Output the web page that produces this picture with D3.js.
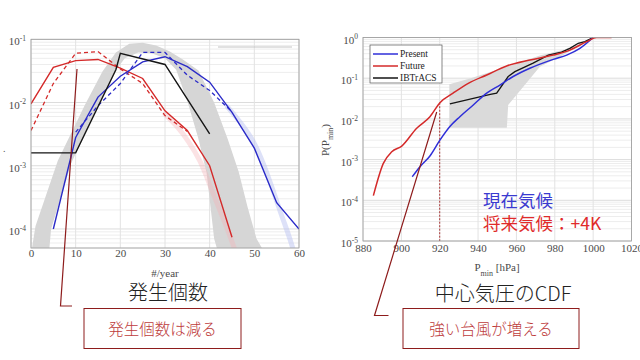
<!DOCTYPE html>
<html><head><meta charset="utf-8">
<script src="https://cdn.jsdelivr.net/npm/d3@7"></script>
<style>body{margin:0;background:#fff} svg{display:block}
.serif{font-family:'Liberation Serif','Times New Roman',serif}
.jp{font-family:'Noto Sans CJK JP','Noto Sans',sans-serif}
</style>
</head><body><svg id="c" width="640" height="360"></svg>
<script>
// ---------- Left panel: annual count distribution ----------
const countTicks = [0,10,20,30,40,50,60];
const probTicksL = [1e-4,1e-3,1e-2,1e-1];
const futureX = [0,5,10,15,20,25,30,35,40,45];
const futureSolid = [0.0095,0.036,0.046,0.048,0.035,0.024,0.0074,0.0036,0.001,0.000074];
const futureDashX = [0,5,10,15,20,25,30,35];
const futureDash = [0.0036,0.020,0.060,0.064,0.034,0.020,0.0062,0.0035];
const presentX = [5,10,15,20,25,30,35,40,45,50,55,60];
const presentSolid = [0.0001,0.0028,0.0122,0.026,0.044,0.053,0.037,0.021,0.007,0.0019,0.00026,0.0001];
const presentDashX = [10,15,20,25,30,35,40,45];
const presentDash = [0.0034,0.0089,0.02,0.062,0.062,0.027,0.0155,0.0071];
const ibCountX = [0,10,19,20,30,40];
const ibCount = [0.0016,0.0016,0.033,0.06,0.04,0.0032];
const grayUpX = [0,1,6,12,16,19,22,25,28,31,34,37.5,41,44,46.5,48.5,50.5,52.5];
const grayUp = [4e-5,1.1e-4,1.2e-3,9e-3,0.031,0.062,0.085,0.088,0.08,0.065,0.048,0.032,0.01,0.0027,8e-4,2.2e-4,7e-5,4e-5];
const grayLoX = [4,4.5,9,15,18.8,21,24,27,30,32.5,35.2,37.4,39.3,40.2,41,42];
const grayLo = [4e-5,1e-4,1.1e-3,9e-3,0.031,0.05,0.062,0.06,0.05,0.033,0.0095,0.0028,7.8e-4,2.2e-4,7e-5,4e-5];
const pinkX = [30,33,35,38,40,42,44,46];
const pink = [0.0065,0.004,0.0026,0.0012,0.0005,0.00022,0.0001,0.00004];
const lblueX = [44,47,50,52,54,56,58,59];
const lblue = [0.0085,0.0048,0.0024,0.0011,0.00045,0.00017,0.00007,0.00004];

// ---------- Right panel: CDF of central pressure ----------
const presTicks = [880,900,920,940,960,980,1000,1020];
const probTicksR = [1e-5,1e-4,1e-3,1e-2,1e-1,1];
const cdfFutureX = [885.4,890.6,895,900.2,908,914.9,920.1,927,934.9,944.5,954.9,967,979.2,987.9,996.6,1001.8,1009.6];
const cdfFuture = [1.3e-4,8.1e-4,1.56e-3,2.15e-3,5.9e-3,0.0113,0.025,0.043,0.075,0.12,0.2,0.28,0.37,0.49,0.79,1,1];
const cdfPresentX = [905.7,909.7,914.9,920.1,925.3,930.5,937.5,944.5,951.4,958.3,967,979.2,986.2,993.1,1000];
const cdfPresent = [3.8e-4,6.7e-4,1.23e-3,3.0e-3,6.5e-3,0.0113,0.022,0.043,0.068,0.11,0.175,0.29,0.37,0.54,1];
const cdfIbX = [925.3,946.4,949.7,955.7,959.2,968.7,976.6,983.5,987.9,992.2,995.7,1000];
const cdfIb = [0.0233,0.04,0.043,0.11,0.145,0.235,0.37,0.44,0.54,0.72,0.79,1];
const bandUpX = [925,935.8,954.9,972.2,984.4,1000];
const bandUp = [0.071,0.099,0.19,0.36,0.49,1];
const bandLoX = [925,955,955.7,972.2,984.4,996.6,1000];
const bandLo = [0.0061,0.0061,0.022,0.19,0.37,0.79,1];
const legendNames = ["Present","Future","IBTrACS"];

const C_BLUE = "#2b2bc8", C_RED = "#d42a2a", C_BLACK = "#151515";
const svg = d3.select("#c");

function zip(xs, ys){ return xs.map((x,i)=>[x,ys[i]]); }

function panel(opts){
  const {x0,x1,y0,y1,xd,yd,xticks,yticks,id,xpad} = opts;
  const x = d3.scaleLinear().domain(xd).range([x0,x1]);
  const y = d3.scaleLog().domain(yd).range([y1,y0]);
  const g = svg.append("g");
  g.append("defs").append("clipPath").attr("id",id).append("rect")
    .attr("x",x0).attr("y",y0).attr("width",x1-x0).attr("height",y1-y0);
  g.append("rect").attr("x",x0).attr("y",y0).attr("width",x1-x0).attr("height",y1-y0).attr("fill","#fff");
  const lo = Math.floor(Math.log10(yd[0])), hi = Math.ceil(Math.log10(yd[1]));
  const minors = [];
  for(let e=lo;e<hi;e++) for(let m=2;m<=9;m++){ const v=m*Math.pow(10,e); if(v>=yd[0]&&v<=yd[1]) minors.push(v); }
  g.selectAll(null).data(minors).enter().append("line")
    .attr("x1",x0).attr("x2",x1).attr("y1",d=>y(d)).attr("y2",d=>y(d))
    .attr("stroke","#ededed").attr("stroke-width",1);
  g.selectAll(null).data(yticks).enter().append("line")
    .attr("x1",x0).attr("x2",x1).attr("y1",d=>y(d)).attr("y2",d=>y(d))
    .attr("stroke","#dcdcdc").attr("stroke-width",1);
  g.selectAll(null).data(xticks).enter().append("line")
    .attr("x1",d=>x(d)).attr("x2",d=>x(d)).attr("y1",y0).attr("y2",y1)
    .attr("stroke","#e2e2e2").attr("stroke-width",1);
  const plot = g.append("g").attr("clip-path",`url(#${id})`);
  g.append("rect").attr("x",x0).attr("y",y0).attr("width",x1-x0).attr("height",y1-y0)
    .attr("fill","none").attr("stroke","#9a9a9a").attr("stroke-width",0.8);
  const xa = d3.axisBottom(x).tickValues(xticks).tickSize(0).tickPadding(xpad).tickFormat(d3.format("d"));
  const ax = g.append("g").attr("transform",`translate(0,${y1})`).call(xa).attr("font-family",null);
  ax.select(".domain").remove();
  ax.selectAll("text").attr("class","serif").attr("font-size",11).attr("fill","#4a4a4a");
  const ya = d3.axisLeft(y).tickValues(yticks).tickSize(0).tickPadding(5).tickFormat(()=> "");
  const ay = g.append("g").attr("transform",`translate(${x0},0)`).call(ya).attr("font-family",null);
  ay.select(".domain").remove();
  ay.selectAll(".tick text").each(function(d){
    const t = d3.select(this).attr("class","serif").attr("font-size",11).attr("fill","#4a4a4a").attr("dy","0.5em");
    t.append("tspan").text("10");
    t.append("tspan").attr("dy","-0.55em").attr("font-size",7.5).text(Math.round(Math.log10(d)));
  });
  return {x,y,plot,g};
}

// ----- Left -----
const L = panel({x0:31,x1:299,y0:39.3,y1:248,xd:[0,60],yd:[5e-5,0.1],xticks:countTicks,yticks:probTicksL,id:"clipL",xpad:1});
const lineL = d3.line().x(d=>L.x(d[0])).y(d=>L.y(d[1]));
const grayPoly = zip(grayUpX,grayUp).concat(zip(grayLoX,grayLo).reverse());
L.plot.append("path").attr("d",lineL(grayPoly)+"Z").attr("fill","#d6d6d6").attr("stroke","none");
const smooth = d3.line().curve(d3.curveBasis).x(d=>L.x(d[0])).y(d=>L.y(d[1]));
L.plot.append("path").attr("d",smooth(zip(pinkX,pink))).attr("fill","none").attr("stroke","#f4b4b8").attr("stroke-opacity",0.38).attr("stroke-width",5).attr("stroke-linecap","round");
L.plot.append("path").attr("d",smooth(zip(lblueX,lblue))).attr("fill","none").attr("stroke","#bcc3f2").attr("stroke-opacity",0.5).attr("stroke-width",5).attr("stroke-linecap","round");
L.plot.append("path").attr("d",lineL(zip(futureDashX,futureDash))).attr("fill","none").attr("stroke",C_RED).attr("stroke-width",1.3).attr("stroke-dasharray","4,3");
L.plot.append("path").attr("d",lineL(zip(presentDashX,presentDash))).attr("fill","none").attr("stroke",C_BLUE).attr("stroke-width",1.3).attr("stroke-dasharray","4,3");
L.plot.append("path").attr("d",lineL(zip(futureX,futureSolid))).attr("fill","none").attr("stroke",C_RED).attr("stroke-width",1.4);
L.plot.append("path").attr("d",lineL(zip(presentX,presentSolid))).attr("fill","none").attr("stroke",C_BLUE).attr("stroke-width",1.4);
L.plot.append("path").attr("d",lineL(zip(ibCountX,ibCount))).attr("fill","none").attr("stroke",C_BLACK).attr("stroke-width",1.4);
L.g.append("line").attr("x1",218).attr("x2",292).attr("y1",47).attr("y2",47).attr("stroke","#c4c4c4").attr("stroke-width",1.2);
svg.append("text").attr("class","serif").attr("x",165).attr("y",276.5).attr("text-anchor","middle").attr("font-size",11).attr("fill","#4a4a4a").text("#/year");
svg.append("text").attr("class","serif").attr("x",3).attr("y",152).attr("font-size",10).attr("fill","#555").text(".");

// ----- Right -----
const R = panel({x0:363,x1:631.5,y0:37.5,y1:241,xd:[880,1020],yd:[1e-5,1],xticks:presTicks,yticks:probTicksR,id:"clipR",xpad:3});
const lineR = d3.line().x(d=>R.x(d[0])).y(d=>R.y(d[1]));
const bandPoly = zip(bandUpX,bandUp).concat(zip(bandLoX,bandLo).reverse());
R.plot.append("path").attr("d",lineR(bandPoly)+"Z").attr("fill","#dadada");
R.plot.append("line").attr("x1",R.x(920)).attr("x2",R.x(920)).attr("y1",R.y(0.025)).attr("y2",R.y(1e-5))
  .attr("stroke","#a32020").attr("stroke-width",0.9).attr("stroke-dasharray","2,1.5");
const smoothR = d3.line().curve(d3.curveMonotoneX).x(d=>R.x(d[0])).y(d=>R.y(d[1]));
R.plot.append("path").attr("d",lineR(zip(cdfIbX,cdfIb))).attr("fill","none").attr("stroke",C_BLACK).attr("stroke-width",1.3);
R.plot.append("path").attr("d",smoothR(zip(cdfPresentX,cdfPresent))).attr("fill","none").attr("stroke","#2f2fd8").attr("stroke-width",1.5);
R.plot.append("path").attr("d",smoothR(zip(cdfFutureX,cdfFuture))).attr("fill","none").attr("stroke",C_RED).attr("stroke-width",1.5);
const lg = svg.append("g");
lg.append("rect").attr("x",370).attr("y",45).attr("width",72).attr("height",38).attr("fill","#fff").attr("stroke","#555").attr("stroke-width",0.7);
const legColors = ["#2f2fd8",C_RED,C_BLACK];
legendNames.forEach((n,i)=>{
  const yy = 54 + i*12;
  lg.append("line").attr("x1",373).attr("x2",398).attr("y1",yy).attr("y2",yy).attr("stroke",legColors[i]).attr("stroke-width",1.5);
  lg.append("text").attr("class","serif").attr("x",400).attr("y",yy+3.3).attr("font-size",9.5).attr("fill","#222").text(n);
});
const xl = svg.append("text").attr("class","serif").attr("x",497).attr("y",271).attr("text-anchor","middle").attr("font-size",11).attr("fill","#4a4a4a");
xl.append("tspan").text("P");
xl.append("tspan").attr("dy",5).attr("font-size",8).text("min");
xl.append("tspan").attr("dy",-5).text(" [hPa]");
const yl = svg.append("text").attr("class","serif").attr("transform","translate(329,140) rotate(-90)").attr("text-anchor","middle").attr("font-size",11).attr("fill","#4a4a4a");
yl.append("tspan").text("P(P");
yl.append("tspan").attr("dy",4).attr("font-size",8).text("min");
yl.append("tspan").attr("dy",-4).text(")");
svg.append("text").attr("class","jp").attr("x",483).attr("y",206.5).attr("font-size",17.5).attr("fill","#3a3ad0").text("現在気候");
svg.append("text").attr("class","jp").attr("x",483).attr("y",229.5).attr("font-size",17.5).attr("fill","#e02a2a").text("将来気候：+4K");

// ----- Titles and callouts -----
svg.append("text").attr("class","jp").attr("x",168).attr("y",300).attr("text-anchor","middle").attr("font-size",20).attr("font-weight",300).attr("fill","#222").text("発生個数");
svg.append("text").attr("class","jp").attr("x",503).attr("y",301).attr("text-anchor","middle").attr("font-size",20).attr("font-weight",300).attr("fill","#222").text("中心気圧のCDF");
const DR = "#8e1c1c";
svg.append("rect").attr("x",84).attr("y",308.5).attr("width",157).attr("height",40).attr("fill","#fff").attr("stroke",DR).attr("stroke-width",1);
svg.append("text").attr("class","jp").attr("x",162.5).attr("y",334.5).attr("text-anchor","middle").attr("font-size",15.5).attr("font-weight",300).attr("fill","#bd3b3b").text("発生個数は減る");
svg.append("rect").attr("x",403).attr("y",308.5).attr("width",176).attr("height",40).attr("fill","#fff").attr("stroke",DR).attr("stroke-width",1);
svg.append("text").attr("class","jp").attr("x",491).attr("y",334.5).attr("text-anchor","middle").attr("font-size",15.5).attr("font-weight",300).attr("fill","#bd3b3b").text("強い台風が増える");
svg.append("path").attr("d","M77,69 L60.5,306 L72,306").attr("fill","none").attr("stroke",DR).attr("stroke-width",1.2);
svg.append("path").attr("d","M436.7,112 L374.5,315.5 L388.5,315.5").attr("fill","none").attr("stroke",DR).attr("stroke-width",1.2);
</script></body></html>
